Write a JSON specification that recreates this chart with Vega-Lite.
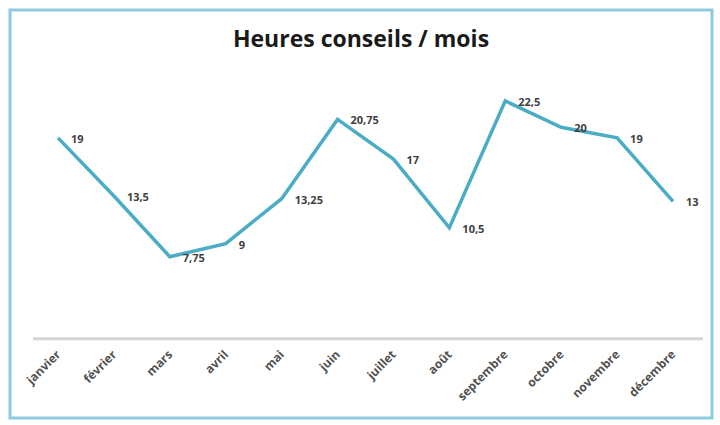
{
  "$schema": "https://vega.github.io/schema/vega-lite/v6.json",
  "width": 702,
  "height": 408,
  "autosize": "none",
  "padding": {"left": 10, "top": 10, "right": 8, "bottom": 7},
  "background": "white",
  "config": {
    "view": {"stroke": "#8ccbe0", "strokeWidth": 3},
    "locale": {"number": {"decimal": ",", "thousands": " ", "grouping": [3], "currency": ["", " €"]}}
  },
  "title": {
    "text": "Heures conseils / mois",
    "offset": -42,
    "anchor": "middle",
    "font": "Open Sans",
    "fontSize": 23,
    "fontWeight": "bold",
    "color": "#1a1a1a"
  },
  "data": {
    "values": [
      {"mois": "janvier", "heures": 19},
      {"mois": "février", "heures": 13.5},
      {"mois": "mars", "heures": 7.75},
      {"mois": "avril", "heures": 9},
      {"mois": "mai", "heures": 13.25},
      {"mois": "juin", "heures": 20.75},
      {"mois": "juillet", "heures": 17},
      {"mois": "août", "heures": 10.5},
      {"mois": "septembre", "heures": 22.5},
      {"mois": "octobre", "heures": 20},
      {"mois": "novembre", "heures": 19},
      {"mois": "décembre", "heures": 13}
    ]
  },
  "encoding": {
    "x": {
      "field": "mois",
      "type": "ordinal",
      "sort": null,
      "scale": {
        "type": "point",
        "padding": 0,
        "domain": ["janvier", "février", "mars", "avril", "mai", "juin", "juillet", "août", "septembre", "octobre", "novembre", "décembre"],
        "range": [48, 663]
      },
      "axis": {
        "orient": "bottom",
        "offset": -79,
        "domain": false,
        "ticks": false,
        "grid": false,
        "title": null,
        "labelAngle": -45,
        "labelAlign": "right",
        "labelBaseline": "middle",
        "labelPadding": 13,
        "labelFont": "Open Sans",
        "labelFontSize": 12,
        "labelFontWeight": "bold",
        "labelColor": "#505050"
      }
    },
    "y": {
      "field": "heures",
      "type": "quantitative",
      "scale": {"domain": [-7.5, 31.1], "nice": false, "zero": false},
      "axis": null
    }
  },
  "layer": [
    {
      "data": {"values": [{"base": 0}]},
      "mark": {"type": "rule", "color": "#d4d4d4", "strokeWidth": 3, "xOffset": -25, "x2Offset": 30},
      "encoding": {
        "x": {"datum": "janvier"},
        "x2": {"datum": "décembre"},
        "y": {"field": "base", "type": "quantitative"}
      }
    },
    {
      "mark": {"type": "line", "color": "#4bacc6", "strokeWidth": 3.5}
    },
    {
      "mark": {"type": "text", "align": "left", "baseline": "middle", "dx": 13, "dy": 2, "font": "Open Sans", "fontSize": 11, "fontWeight": "bold", "color": "#404040"},
      "encoding": {
        "text": {"field": "heures", "type": "quantitative", "format": "~g"}
      }
    }
  ]
}
